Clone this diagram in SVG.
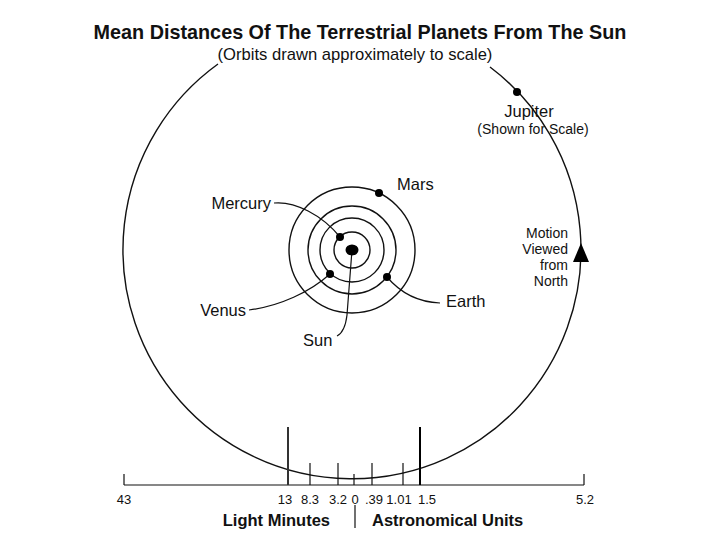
<svg xmlns="http://www.w3.org/2000/svg" width="720" height="540" viewBox="0 0 720 540">
<style>
text{font-family:"Liberation Sans",Arial,Helvetica,sans-serif;fill:#111}
.t{font-size:19.8px;font-weight:bold}
.st{font-size:16.6px}
.lb{font-size:16.5px}
.sm{font-size:14px}
.num{font-size:13px;text-anchor:middle}
.bl{font-size:16.5px;font-weight:bold}
.orb{fill:none;stroke:#111;stroke-width:1.4}
.ld{fill:none;stroke:#111;stroke-width:1.2}
.tk{stroke:#111;stroke-width:1.2}
.dot{fill:#000}
</style>
<rect width="720" height="540" fill="#fff"/>
<g id="title">
<text class="t" x="360" y="39" text-anchor="middle">Mean Distances Of The Terrestrial Planets From The Sun</text>
<text class="st" x="355" y="60" text-anchor="middle">(Orbits drawn approximately to scale)</text>
</g>
<g id="jupiter-orbit">
<path class="orb" d="M 218 64 A 229 229 0 1 0 490 67"/>
</g>
<g id="orbits">
<circle class="orb" cx="352" cy="250" r="18"/>
<circle class="orb" cx="352" cy="250" r="32"/>
<circle class="orb" cx="352" cy="250" r="44"/>
<circle class="orb" cx="352" cy="250" r="63"/>
</g>
<g id="connectors">
<path class="ld" d="M 274 203 C 295 201, 322 215, 340 237"/>
<path class="ld" d="M 249 310 C 280 306, 310 292, 330 274"/>
<path class="ld" d="M 387 277 C 398 290, 415 302, 440 303"/>
<path class="ld" d="M 352 250 L 347 315 Q 345 332 337 336"/>
</g>
<g id="sun"><ellipse class="dot" cx="352" cy="250" rx="6.5" ry="5.5"/><text class="lb" x="303" y="346">Sun</text></g>
<g id="mercury"><circle class="dot" cx="340" cy="237" r="4"/><text class="lb" x="271" y="209" text-anchor="end">Mercury</text></g>
<g id="venus"><circle class="dot" cx="330" cy="274" r="4"/><text class="lb" x="246" y="316" text-anchor="end">Venus</text></g>
<g id="earth"><circle class="dot" cx="387" cy="277" r="4"/><text class="lb" x="446" y="307">Earth</text></g>
<g id="mars"><circle class="dot" cx="379" cy="193" r="4"/><text class="lb" x="397" y="190">Mars</text></g>
<g id="jupiter"><circle class="dot" cx="517" cy="92" r="4"/>
<text class="lb" x="529" y="117" text-anchor="middle">Jupiter</text>
<text class="sm" x="533" y="134" text-anchor="middle">(Shown for Scale)</text></g>
<g id="motion">
<polygon class="dot" points="581,243 573,262 589,262"/>
<text class="sm" x="568" y="238" text-anchor="end">Motion</text>
<text class="sm" x="568" y="254" text-anchor="end">Viewed</text>
<text class="sm" x="568" y="270" text-anchor="end">from</text>
<text class="sm" x="568" y="286" text-anchor="end">North</text>
</g>
<g id="scale">
<line class="tk" x1="124" y1="485" x2="584" y2="485"/>
<line class="tk" x1="124" y1="474" x2="124" y2="485"/>
<line class="tk" x1="584" y1="474" x2="584" y2="485"/>
<line stroke="#333" stroke-width="2" x1="288" y1="427" x2="288" y2="485"/>
<line class="tk" x1="310" y1="463" x2="310" y2="485"/>
<line class="tk" x1="338" y1="463" x2="338" y2="485"/>
<line class="tk" x1="354" y1="474" x2="354" y2="485"/>
<line class="tk" x1="372" y1="463" x2="372" y2="485"/>
<line class="tk" x1="403" y1="463" x2="403" y2="485"/>
<line stroke="#000" stroke-width="2" x1="420" y1="427" x2="420" y2="485"/>
<text class="num" x="124" y="504">43</text>
<text class="num" x="285" y="504">13</text>
<text class="num" x="310" y="504">8.3</text>
<text class="num" x="338" y="504">3.2</text>
<text class="num" x="355" y="504">0</text>
<text class="num" x="374" y="504">.39</text>
<text class="num" x="399" y="504">1.01</text>
<text class="num" x="427" y="504">1.5</text>
<text class="num" x="585" y="504">5.2</text>
<line class="tk" x1="355" y1="505" x2="355" y2="528"/>
<text class="bl" x="330" y="526" text-anchor="end">Light Minutes</text>
<text class="bl" x="372" y="526">Astronomical Units</text>
</g>
</svg>
